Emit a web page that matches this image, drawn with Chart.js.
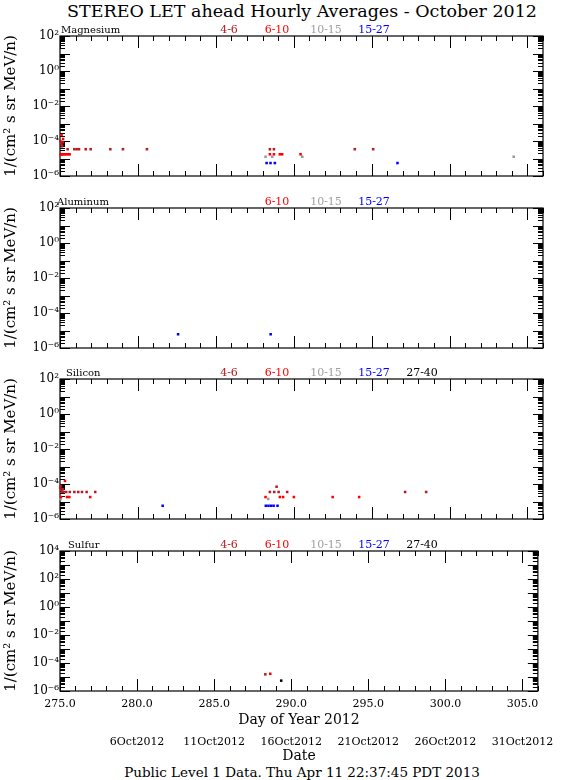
<!DOCTYPE html>
<html><head><meta charset="utf-8">
<script src="https://cdn.jsdelivr.net/npm/chart.js@4.4.1/dist/chart.umd.min.js"></script>
<style>
html,body{margin:0;padding:0;background:#fff;}
#wrap{position:relative;width:561px;height:780px;overflow:hidden;background:#fff;}
#wrap canvas{position:absolute;left:0;top:0;}
.t{position:absolute;font-family:'DejaVu Serif';color:#000;white-space:nowrap;transform:translate(-50%,-50%);}
</style></head><body>
<div id="wrap">
<div class="t" style="left:302px;top:11px;font-size:17.5px;">STEREO LET ahead Hourly Averages - October 2012</div>
<div class="t" style="left:302px;top:772px;font-size:13.5px;">Public Level 1 Data. Thu Apr 11 22:37:45 PDT 2013</div>
</div>
<script>
// ---- tick labels ----
const dayTicks = [275, 280, 285, 290, 295, 300, 305];
const dateTickDays = [280, 285, 290, 295, 300, 305];
const dateTickLabels = ['6Oct2012', '11Oct2012', '16Oct2012', '21Oct2012', '26Oct2012', '31Oct2012'];
const channelNames = ['4-6', '6-10', '10-15', '15-27', '27-40'];
const channelColors = ['#b81c22', '#ff0000', '#999999', '#0000ff', '#000000'];

// ---- Magnesium ----
const mgDay46 = [275.02, 275.06, 275.10, 275.14, 275.19, 275.49, 275.92, 276.07, 276.22, 276.65, 276.97, 278.23, 279.04, 280.58, 288.47, 288.73, 293.92, 295.10];
const mgVal46 = [1.0e-4, 7.7e-5, 6.0e-5, 5.0e-5, 8.5e-5, 3.4e-5, 3.4e-5, 3.4e-5, 3.4e-5, 3.4e-5, 3.4e-5, 3.4e-5, 3.4e-5, 3.4e-5, 3.4e-5, 3.4e-5, 3.4e-5, 3.4e-5];
const mgDay610 = [275.03, 275.08, 275.14, 275.22, 275.31, 275.40, 275.52, 275.62, 275.10, 275.20, 288.47, 288.73, 289.11, 289.26, 290.44];
const mgVal610 = [1.74e-5, 1.74e-5, 1.74e-5, 1.74e-5, 1.74e-5, 1.74e-5, 1.74e-5, 1.74e-5, 2.2e-4, 1.3e-4, 1.74e-5, 1.74e-5, 1.74e-5, 1.74e-5, 1.74e-5];
const mgDay1015 = [288.19, 288.62, 290.55, 304.12];
const mgVal1015 = [1.26e-5, 1.26e-5, 1.26e-5, 1.26e-5];
const mgDay1527 = [288.26, 288.51, 288.79, 296.66];
const mgVal1527 = [5.5e-6, 5.5e-6, 5.5e-6, 5.5e-6];

// ---- Aluminum ----
const alDay1527 = [282.58, 288.52];
const alVal1527 = [6.1e-6, 6.1e-6];

// ---- Silicon ----
const siDay46 = [275.01, 275.04, 275.08, 275.12, 275.17, 275.22, 275.40, 275.63, 275.92, 276.17, 276.41, 276.71, 277.26, 288.47, 288.75, 288.90, 289.03, 289.58, 297.15, 298.50];
const siVal46 = [6.0e-5, 8.0e-5, 4.5e-5, 3.5e-5, 5.0e-5, 3.5e-5, 3.5e-5, 3.5e-5, 3.5e-5, 3.5e-5, 3.5e-5, 3.5e-5, 3.5e-5, 3.5e-5, 3.5e-5, 7.0e-5, 3.5e-5, 3.5e-5, 3.5e-5, 3.5e-5];
const siDay610 = [275.06, 275.32, 275.45, 275.60, 276.94, 288.19, 289.11, 289.32, 290.01, 292.50, 294.20];
const siVal610 = [1.8e-5, 1.5e-4, 1.8e-5, 1.8e-5, 1.8e-5, 1.8e-5, 1.8e-5, 1.8e-5, 1.8e-5, 1.8e-5, 1.8e-5];
const siDay1015 = [275.03, 288.36];
const siVal1015 = [1.4e-5, 1.4e-5];
const siDay1527 = [281.59, 288.21, 288.38, 288.55, 288.71, 288.96];
const siVal1527 = [5.7e-6, 5.7e-6, 5.7e-6, 5.7e-6, 5.7e-6, 5.7e-6];

// ---- Sulfur ----
const sDay46 = [288.32];
const sVal46 = [1.55e-5];
const sDay610 = [288.64];
const sVal610 = [1.7e-5];
const sDay2740 = [289.35];
const sVal2740 = [5.5e-6];

const FONT = 'DejaVu Serif';
const SUP = {'0':'⁰','1':'¹','2':'²','3':'³','4':'⁴','5':'⁵','6':'⁶','7':'⁷','8':'⁸','9':'⁹','-':'⁻'};
function pow10Label(v) {
  const e = Math.round(Math.log10(v));
  return '10' + String(e).split('').map(c => SUP[c]).join('');
}
function pts(days, vals) { return days.map((d, i) => ({x: d, y: vals[i]})); }

const panels = [
  {name: 'Magnesium', top: 36, bottom: 176, ymax: 1e2, nameDx: 1, labels: [0, 1, 2, 3],
   series: [[mgDay46, mgVal46, 0], [mgDay610, mgVal610, 1], [mgDay1015, mgVal1015, 2], [mgDay1527, mgVal1527, 3]]},
  {name: 'Aluminum', top: 208, bottom: 348, ymax: 1e2, nameDx: -3, labels: [1, 2, 3],
   series: [[alDay1527, alVal1527, 3]]},
  {name: 'Silicon', top: 379, bottom: 519, ymax: 1e2, nameDx: 6, labels: [0, 1, 2, 3, 4],
   series: [[siDay46, siVal46, 0], [siDay610, siVal610, 1], [siDay1015, siVal1015, 2], [siDay1527, siVal1527, 3]]},
  {name: 'Sulfur', top: 551, bottom: 691, ymax: 1e4, nameDx: 8, labels: [0, 1, 2, 3, 4], bottomAxis: true,
   series: [[sDay46, sVal46, 0], [sDay610, sVal610, 1], [sDay2740, sVal2740, 4]]}
];
const labelDx = [169, 217, 266, 314, 362];

const framePlugin = {
  id: 'frame',
  beforeDatasetsDraw(chart, args, o) {
    const {ctx, chartArea: a} = chart;
    const xs = chart.scales.x, ys = chart.scales.y;
    ctx.save();
    ctx.strokeStyle = '#000';
    ctx.lineWidth = 1.2;
    ctx.strokeRect(a.left, a.top, a.right - a.left, a.bottom - a.top);
    ctx.lineWidth = 1;
    ctx.beginPath();
    for (let d = Math.ceil(xs.min); d <= xs.max; d++) {
      const px = Math.round(xs.getPixelForValue(d)) + 0.5;
      const len = d % 5 === 0 ? 12 : 5;
      ctx.moveTo(px, a.bottom); ctx.lineTo(px, a.bottom - len);
      ctx.moveTo(px, a.top); ctx.lineTo(px, a.top + len);
    }
    const e0 = Math.round(Math.log10(ys.min)), e1 = Math.round(Math.log10(ys.max));
    for (let e = e0; e <= e1; e++) {
      for (let k = 1; k <= 9; k++) {
        const v = k * Math.pow(10, e);
        if (v > ys.max * 1.0001) break;
        const py = Math.round(ys.getPixelForValue(v)) + 0.5;
        const len = k === 1 ? 10 : 5;
        ctx.moveTo(a.left, py); ctx.lineTo(a.left + len, py);
        ctx.moveTo(a.right, py); ctx.lineTo(a.right - len, py);
      }
    }
    ctx.stroke();
    // panel name + energy channel labels
    ctx.textBaseline = 'middle';
    ctx.textAlign = 'left';
    ctx.font = '10px "' + FONT + '"';
    ctx.fillStyle = '#000';
    ctx.fillText(o.name, a.left + o.nameDx, a.top - 5.5);
    ctx.font = '11px "' + FONT + '"';
    ctx.textAlign = 'center';
    o.labels.forEach(i => {
      ctx.fillStyle = i === 2 ? '#a0a0a0' : channelColors[i];
      ctx.fillText(channelNames[i], a.left + labelDx[i], a.top - 5.5);
    });
    ctx.restore();
  }
};

const wrap = document.getElementById('wrap');
panels.forEach(p => {
  const cv = document.createElement('canvas');
  cv.width = 561; cv.height = 780;
  cv.style.width = '561px'; cv.style.height = '780px';
  wrap.appendChild(cv);
  const evenTicks = [];
  for (let e = -6; e <= Math.round(Math.log10(p.ymax)); e += 2) evenTicks.push(Math.pow(10, e));
  const xH = p.bottomAxis ? 38 : 0, x2H = p.bottomAxis ? 36 : 0;
  const scales = {
    x: {
      type: 'linear', min: 275, max: 306, position: 'bottom', weight: 0,
      display: !!p.bottomAxis,
      grid: {display: false, drawTicks: false},
      border: {display: false},
      afterBuildTicks: s => { s.ticks = dayTicks.map(v => ({value: v})); },
      afterFit: s => { s.height = xH; },
      ticks: {padding: 7, color: '#000', font: {family: FONT, size: 11}, autoSkip: false, maxRotation: 0,
              callback: v => Number(v).toFixed(1)},
      title: {display: true, text: 'Day of Year 2012', color: '#000', font: {family: FONT, size: 14}, padding: {top: 0, bottom: 0}}
    },
    y: {
      type: 'logarithmic', min: 1e-6, max: p.ymax, position: 'left',
      grid: {display: false, drawTicks: false},
      border: {display: false},
      afterBuildTicks: s => { s.ticks = evenTicks.map(v => ({value: v})); },
      afterFit: s => { s.width = 60; },
      ticks: {padding: 1, color: '#000', font: {family: FONT, size: 12}, autoSkip: false, callback: v => pow10Label(v)},
      title: {display: true, text: '1/(cm² s sr MeV/n)', color: '#000', font: {family: FONT, size: 15}, padding: {top: 2, bottom: 0}}
    }
  };
  if (p.bottomAxis) {
    scales.x2 = {
      type: 'linear', min: 275, max: 306, position: 'bottom', weight: 1, axis: 'x',
      grid: {display: false, drawTicks: false},
      border: {display: false},
      afterBuildTicks: s => { s.ticks = dateTickDays.map(v => ({value: v})); },
      afterFit: s => { s.height = x2H; },
      ticks: {padding: 7, color: '#000', font: {family: FONT, size: 11}, autoSkip: false, maxRotation: 0,
              callback: v => dateTickLabels[dateTickDays.indexOf(Math.round(v))]},
      title: {display: true, text: 'Date', color: '#000', font: {family: FONT, size: 14}, padding: {top: 0, bottom: 0}}
    };
  }
  new Chart(cv, {
    type: 'scatter',
    data: {
      datasets: p.series.map(([days, vals, ci]) => ({
        label: channelNames[ci],
        data: pts(days, vals),
        backgroundColor: channelColors[ci],
        borderColor: channelColors[ci],
        pointStyle: 'rect',
        pointRadius: 1.8,
        pointBorderWidth: 0,
        clip: false
      }))
    },
    options: {
      responsive: false,
      animation: false,
      events: [],
      layout: {padding: {left: 0, right: 18, top: p.top, bottom: 780 - p.bottom - xH - x2H}},
      plugins: {legend: {display: false}, tooltip: {enabled: false},
                frame: {name: p.name, nameDx: p.nameDx, labels: p.labels}},
      scales
    },
    plugins: [framePlugin]
  });
});
</script>
</body></html>
